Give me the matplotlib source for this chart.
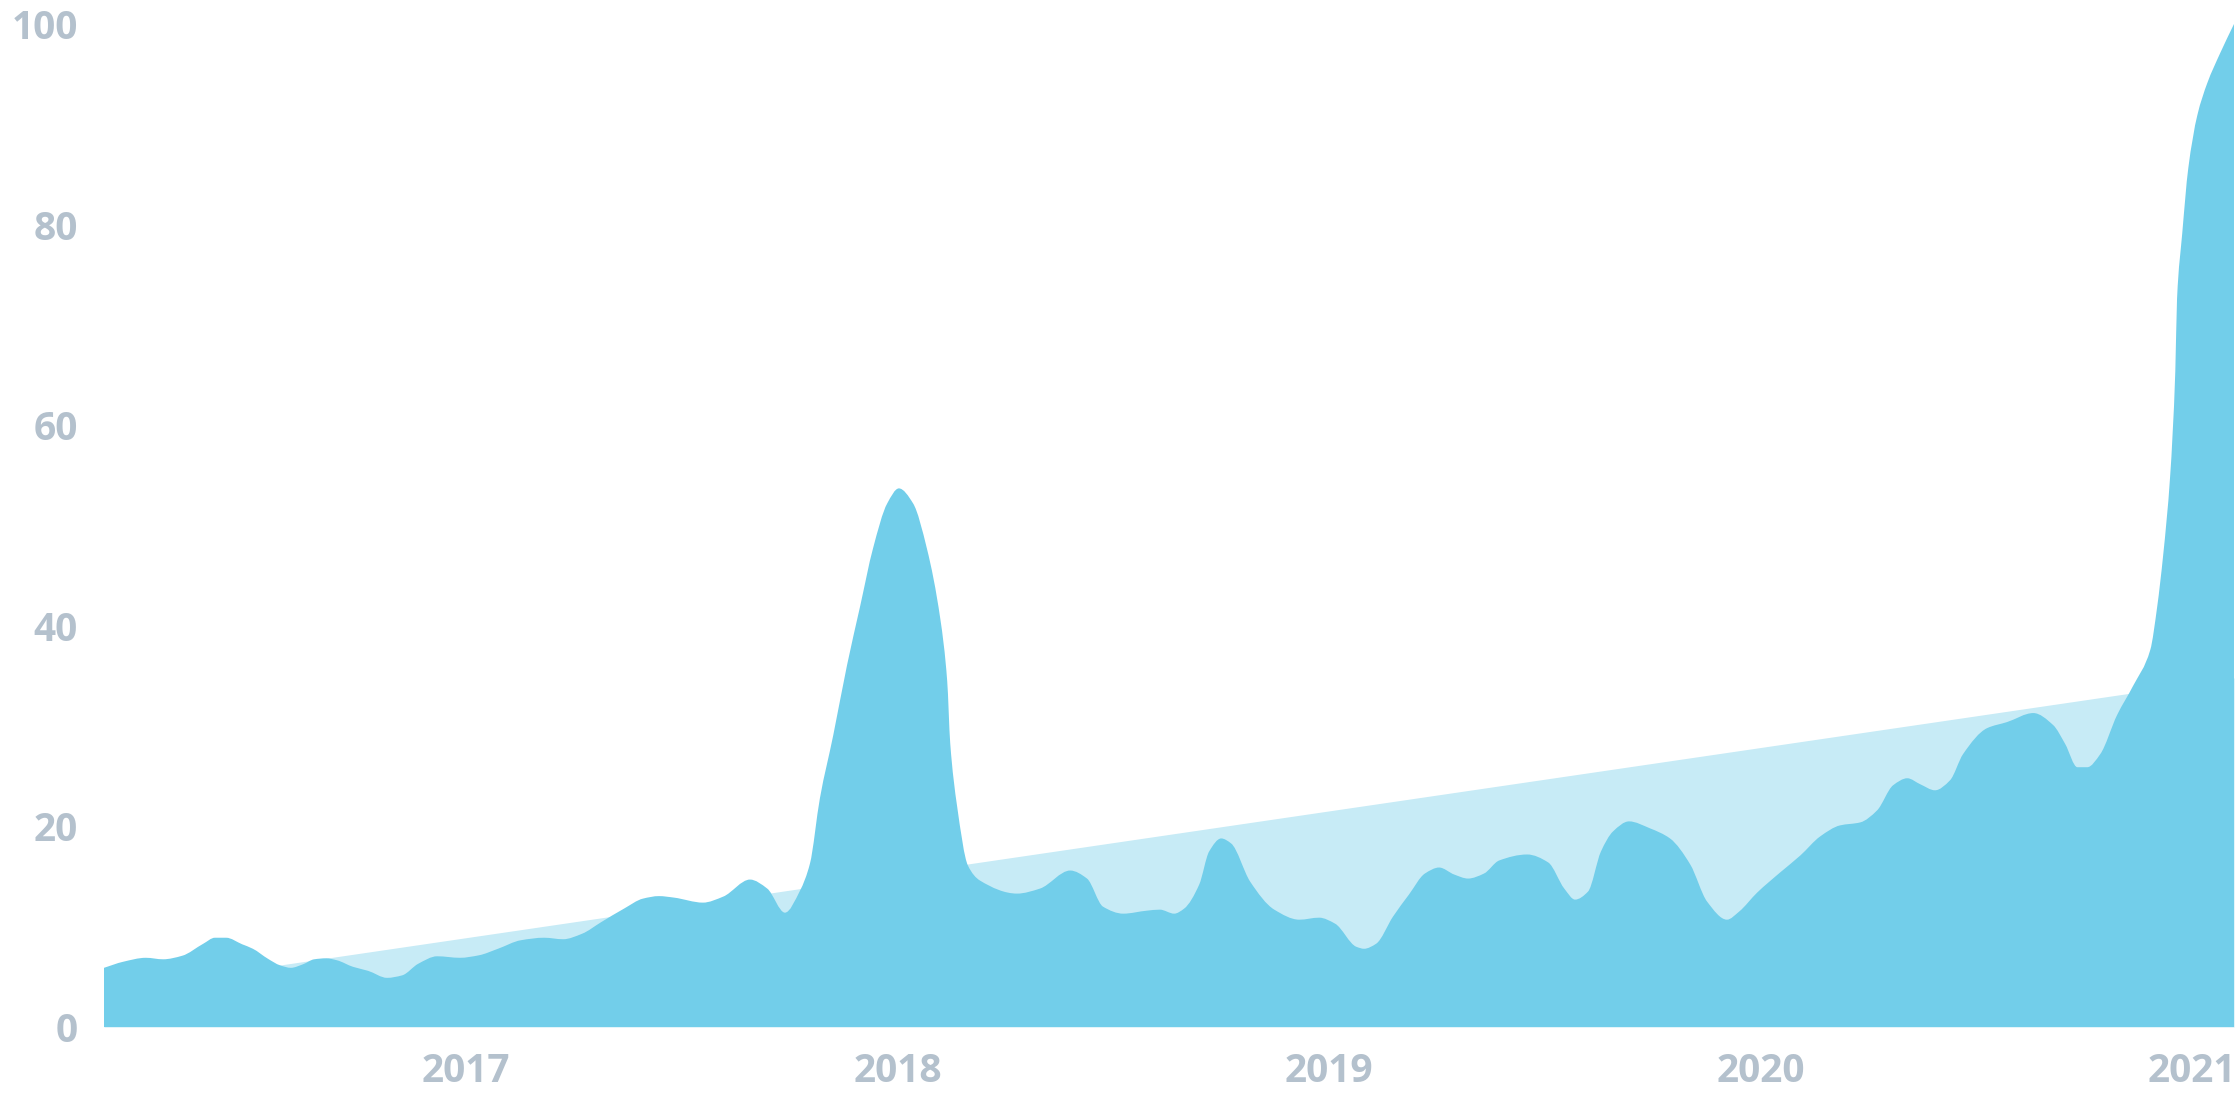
import numpy as np
import matplotlib
matplotlib.use("Agg")
import matplotlib.pyplot as plt
from matplotlib.path import Path
from matplotlib.patches import PathPatch

# ---- data (decimal year, interest value) ----
years = [2016.161, 2016.205, 2016.258, 2016.298, 2016.342, 2016.391, 2016.418, 2016.444,
         2016.481, 2016.506, 2016.541, 2016.569, 2016.594, 2016.622, 2016.648, 2016.676,
         2016.701, 2016.738, 2016.773, 2016.817, 2016.852, 2016.889, 2016.933, 2016.986,
         2017.030, 2017.074, 2017.127, 2017.181, 2017.225, 2017.269, 2017.313, 2017.366,
         2017.410, 2017.447, 2017.482, 2017.549, 2017.596, 2017.658, 2017.698, 2017.739,
         2017.774, 2017.797, 2017.820, 2017.851, 2017.883, 2017.913, 2017.943, 2017.976,
         2018.003, 2018.036, 2018.068, 2018.099, 2018.115, 2018.122, 2018.138, 2018.163,
         2018.191, 2018.277, 2018.330, 2018.400, 2018.439, 2018.476, 2018.523, 2018.578,
         2018.608, 2018.641, 2018.664, 2018.699, 2018.722, 2018.750, 2018.773, 2018.817,
         2018.873, 2018.931, 2018.977, 2019.014, 2019.063, 2019.081, 2019.109, 2019.148,
         2019.185, 2019.222, 2019.255, 2019.290, 2019.322, 2019.359, 2019.394, 2019.459,
         2019.508, 2019.545, 2019.570, 2019.600, 2019.630, 2019.658, 2019.695, 2019.744,
         2019.790, 2019.837, 2019.876, 2019.922, 2019.950, 2019.992, 2020.045, 2020.092,
         2020.138, 2020.184, 2020.231, 2020.270, 2020.307, 2020.340, 2020.370, 2020.404,
         2020.439, 2020.469, 2020.525, 2020.571, 2020.632, 2020.678, 2020.706, 2020.734,
         2020.757, 2020.787, 2020.826, 2020.863, 2020.903, 2020.919, 2020.933, 2020.949,
         2020.961, 2020.965, 2020.977, 2020.991, 2021.012, 2021.035, 2021.065, 2021.097]
values = [5.9, 6.5, 6.9, 6.75, 7.1, 8.3, 8.9, 8.9,
          8.25, 7.8, 6.8, 6.15, 5.9, 6.25, 6.75, 6.85,
          6.65, 6.0, 5.6, 4.9, 5.15, 6.3, 7.05, 6.9,
          7.15, 7.8, 8.65, 8.9, 8.75, 9.3, 10.45, 11.8,
          12.8, 13.05, 12.9, 12.4, 13.0, 14.7, 13.8, 11.4,
          13.6, 16.3, 22.8, 29.1, 36.1, 41.9, 47.7, 52.2,
          53.7, 52.2, 47.7, 40.7, 34.5, 28.3, 22.0, 16.1,
          14.6, 13.3, 13.8, 15.6, 14.8, 12.0, 11.3, 11.6,
          11.7, 11.3, 11.8, 14.2, 17.5, 18.8, 18.3, 14.5,
          11.7, 10.7, 10.9, 10.3, 8.0, 7.8, 8.3, 11.0,
          13.2, 15.3, 15.9, 15.2, 14.8, 15.3, 16.6, 17.2,
          16.4, 13.8, 12.7, 13.5, 17.5, 19.5, 20.5, 19.8,
          18.8, 16.2, 12.5, 10.7, 11.5, 13.4, 15.4, 17.1,
          19.0, 20.1, 20.4, 21.6, 24.1, 24.8, 24.2, 23.6,
          24.6, 27.2, 29.8, 30.4, 31.3, 30.1, 28.2, 25.9,
          25.9, 27.2, 31.1, 34.0, 37.6, 41.9, 47.1, 54.9,
          65.4, 72.6, 79.1, 85.6, 90.9, 94.1, 97.1, 100.0]

trend_years = [2016.161, 2021.097]
trend_values = [3.6, 34.8]

year_ticks = [2017, 2018, 2019, 2020, 2021]
year_labels = ["2017", "2018", "2019", "2020", "2021"]
value_ticks = [0, 20, 40, 60, 80, 100]

MAIN = "#72CEEA"
LIGHT = "#C7EBF6"
LABEL = "#B4C1CD"


def pchip_slopes(x, y):
    x = np.asarray(x, float); y = np.asarray(y, float)
    h = np.diff(x); d = np.diff(y) / h
    m = np.zeros_like(y)
    for k in range(1, len(x) - 1):
        if d[k - 1] * d[k] <= 0:
            m[k] = 0.0
        else:
            w1 = 2 * h[k] + h[k - 1]
            w2 = h[k] + 2 * h[k - 1]
            m[k] = (w1 + w2) / (w1 / d[k - 1] + w2 / d[k])
    m[0] = d[0]
    m[-1] = d[-1]
    return m


def smooth_area_path(x, y):
    x = np.asarray(x, float); y = np.asarray(y, float)
    m = pchip_slopes(x, y)
    verts = [(x[0], 0.0), (x[0], y[0])]
    codes = [Path.MOVETO, Path.LINETO]
    for i in range(len(x) - 1):
        h = x[i + 1] - x[i]
        verts += [(x[i] + h / 3, y[i] + m[i] * h / 3),
                  (x[i + 1] - h / 3, y[i + 1] - m[i + 1] * h / 3),
                  (x[i + 1], y[i + 1])]
        codes += [Path.CURVE4] * 3
    verts += [(x[-1], 0.0), (x[0], 0.0)]
    codes += [Path.LINETO, Path.CLOSEPOLY]
    return Path(verts, codes)


fig = plt.figure(figsize=(22.4, 11.2), dpi=100)
ax = fig.add_axes([104 / 2240, 93 / 1120, 2130 / 2240, 1003 / 1120])

ax.fill_between(trend_years, trend_values, 0, color=LIGHT, lw=0, zorder=1)
ax.add_patch(PathPatch(smooth_area_path(years, values), facecolor=MAIN,
                       edgecolor="none", zorder=2))

ax.set_xlim(years[0], years[-1])
ax.set_ylim(0, 100)
ax.set_xticks(year_ticks)
ax.set_xticklabels(year_labels)
ax.set_yticks(value_ticks)
ax.set_yticklabels([str(v) for v in value_ticks])

for s in ax.spines.values():
    s.set_visible(False)
ax.tick_params(axis="both", length=0, labelcolor=LABEL)
ax.tick_params(axis="y", pad=19)
ax.tick_params(axis="x", pad=18)
for lab in ax.get_xticklabels() + ax.get_yticklabels():
    lab.set_fontfamily("Open Sans")
    lab.set_fontsize(28)
    lab.set_fontweight("bold")

fig.savefig("out.png", dpi=100, facecolor="white")
